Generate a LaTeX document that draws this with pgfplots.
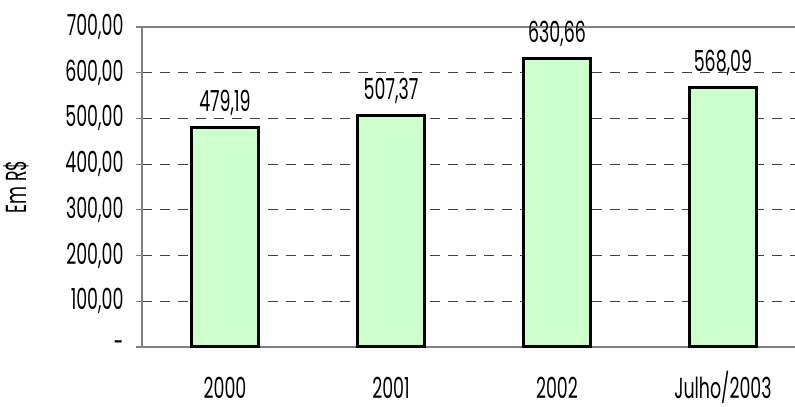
\documentclass[border=0pt]{standalone}
\usepackage{pgfplots}
\pgfplotsset{compat=1.18}
\usetikzlibrary{calc}
\usepackage{fontspec}
\setmainfont{Poppins}[FakeStretch=0.6]
\definecolor{barfill}{HTML}{CCFFCC}
\definecolor{axgray}{HTML}{808080}
\newcommand{\chartfont}{\fontsize{29bp}{32bp}\selectfont}
\begin{document}
\begin{tikzpicture}
\begin{axis}[
  scale only axis, width=653bp, height=320bp,
  xmin=-0.5, xmax=3.434, ymin=0, ymax=700,
  axis x line=bottom, axis y line=left,
  axis line style={-, draw=axgray, line width=2bp},
  major tick length=6bp,
  tick align=outside,
  xtick={0,1,2,3}, xticklabels={2000,2001,2002,Julho/2003},
  major x tick style={draw=none},
  extra x ticks={-0.5,0.5,1.5,2.5}, extra x tick labels={},
  extra x tick style={major tick length=10bp, tick style={draw=axgray, line width=1.2bp}},
  xticklabel style={font=\chartfont, anchor=base, inner sep=0pt, yshift=-46bp},
  ytick={0,100,...,700},
  yticklabels={{-},{100,00},{200,00},{300,00},{400,00},{500,00},{600,00},{700,00}},
  y tick style={draw=axgray, line width=1.2bp},
  yticklabel style={font=\chartfont, xshift=-9bp},
  ymajorgrids,
  grid style={draw=black!75, line width=0.9bp, dash pattern=on 10bp off 8bp},
  ylabel={Em R\$},
  ylabel style={font=\chartfont, at={(rel axis cs:0,0.5)}, yshift=126bp, anchor=center},
  nodes near coords={\pgfplotspointmeta},
  point meta=explicit symbolic,
  nodes near coords style={font=\chartfont, anchor=base, inner sep=0pt, yshift=16bp},
  clip=false,
]
\addplot[ybar, bar width=0.4, fill=barfill, draw=black, line width=3bp]
  coordinates {(0,479.19) [479,19] (1,507.37) [507,37] (2,630.66) [630,66] (3,568.09) [568,09]};
\draw[draw=axgray, line width=2bp] (rel axis cs:0,1) -- (rel axis cs:1,1);
\coordinate (SW) at (rel axis cs:0,0);
\coordinate (NE) at (rel axis cs:1,1);
\end{axis}
\pgfresetboundingbox
\path[use as bounding box] ($(SW)+(-142bp,-60bp)$) rectangle ($(NE)+(0,27bp)$);
\end{tikzpicture}
\end{document}
